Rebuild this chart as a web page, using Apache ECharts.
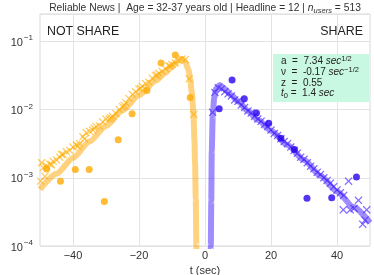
<!DOCTYPE html>
<html><head><meta charset="utf-8">
<script src="https://cdn.jsdelivr.net/npm/echarts@6/dist/echarts.min.js"></script>
<style>html,body{margin:0;padding:0;background:#fff}#c{width:374px;height:275px}</style>
</head><body><div id="c"></div>
<script>
// ---------- data ----------
const xTickLabels = [-40, -20, 0, 20, 40];
const yTickExponents = [-4, -3, -2, -1];

// fitted curve, NOT SHARE (t, pdf)
const notShareFitT   = [-50, -45, -40, -35, -30, -25, -20, -15, -12, -10, -8, -7, -6, -5, -4.5, -4, -3.5, -3.2, -3.0, -2.8, -2.6, -2.45];
const notShareFitPdf = [6.76e-4, 1.148e-3, 1.95e-3, 3.39e-3, 5.75e-3, 9.77e-3, 1.62e-2, 2.63e-2, 3.47e-2, 4.27e-2, 5.25e-2, 5.50e-2, 5.01e-2, 3.80e-2, 2.82e-2, 1.78e-2, 8.91e-3, 3.55e-3, 1.58e-3, 5.01e-4, 1.0e-4, 2.5e-5];

// fitted curve, SHARE
const shareFitT   = [1.7, 1.76, 1.9, 2.05, 2.35, 2.8, 3.4, 4.5, 6, 8, 10, 13, 16, 20, 25, 30, 35, 40, 45, 50];
const shareFitPdf = [2.5e-5, 1.0e-4, 4.57e-4, 2.51e-3, 8.13e-3, 1.51e-2, 2.04e-2, 2.29e-2, 2.00e-2, 1.62e-2, 1.32e-2, 9.55e-3, 7.08e-3, 4.90e-3, 3.02e-3, 1.82e-3, 1.07e-3, 6.31e-4, 3.72e-4, 2.19e-4];

// crosses, NOT SHARE
const notShareCrossT   = [-49.8, -49.5, -49, -48.5, -48, -47, -46.5, -46, -45, -44, -43.5, -43, -42, -41, -40, -39, -38.5, -38, -37, -36.5, -36, -35, -34, -33.5, -33, -32, -31, -30, -29, -28.5, -28, -27, -26, -25, -24.5, -24, -23, -22, -21, -20, -19.5, -19, -18, -17, -16, -15, -14.5, -14, -13, -12, -11, -10.5, -10, -9, -8, -7, -6, -4.8, -3.4];
const notShareCrossPdf = [8.91e-4, 1.66e-3, 1.41e-3, 1.05e-3, 1.48e-3, 1.58e-3, 1.55e-3, 1.74e-3, 1.82e-3, 2.00e-3, 2.2e-3, 2.19e-3, 2.40e-3, 2.51e-3, 2.82e-3, 3.02e-3, 2.9e-3, 3.16e-3, 3.98e-3, 3.7e-3, 4.57e-3, 4.79e-3, 5.01e-3, 5.3e-3, 5.62e-3, 5.75e-3, 6.61e-3, 7.24e-3, 7.24e-3, 7.6e-3, 7.94e-3, 8.71e-3, 1.0e-2, 1.10e-2, 1.15e-2, 1.26e-2, 1.45e-2, 1.66e-2, 1.82e-2, 2.00e-2, 2.05e-2, 2.19e-2, 2.40e-2, 2.51e-2, 2.88e-2, 3.16e-2, 3.2e-2, 3.39e-2, 3.63e-2, 3.98e-2, 4.37e-2, 4.3e-2, 4.57e-2, 4.79e-2, 5.25e-2, 5.50e-2, 5.37e-2, 2.82e-2, 8.51e-3];

// crosses, SHARE
const shareCrossT   = [2.3, 3.0, 4, 5, 6, 7, 8, 9, 10, 11, 12, 13, 14, 15, 16, 17, 18, 19, 20, 21, 22, 23, 24, 25, 26, 27, 28, 29, 30, 31, 32, 33, 34, 35, 36, 37, 38, 39, 40, 41, 42, 43.5, 41.9, 44, 45.2, 46.5, 47.8, 48.5, 49];
const shareCrossPdf = [9.12e-3, 1.78e-2, 2.09e-2, 2.00e-2, 1.82e-2, 1.70e-2, 1.58e-2, 1.38e-2, 1.32e-2, 1.17e-2, 1.07e-2, 9.55e-3, 8.91e-3, 7.94e-3, 7.24e-3, 6.76e-3, 6.03e-3, 5.62e-3, 5.01e-3, 4.47e-3, 4.17e-3, 3.72e-3, 3.39e-3, 3.16e-3, 2.82e-3, 2.51e-3, 2.29e-3, 2.00e-3, 1.86e-3, 1.66e-3, 1.48e-3, 1.35e-3, 1.20e-3, 1.12e-3, 1.0e-3, 9.12e-4, 8.32e-4, 7.41e-4, 6.61e-4, 6.03e-4, 5.50e-4, 8.91e-4, 3.39e-4, 3.39e-4, 3.55e-4, 4.68e-4, 2.09e-4, 2.40e-4, 3.39e-4];

// dots, NOT SHARE
const notShareDotT   = [-13.3, -9.0, -17.6, -4.5, -22.1, -26.3, -48, -39.3, -35.1, -43.8, -30.5];
const notShareDotPdf = [0.048, 0.063, 0.019, 0.015, 0.0087, 0.0036, 0.00134, 0.00132, 0.00132, 0.00089, 0.00045];

// dots, SHARE
const shareDotT   = [4.3, 8.2, 11.9, 15.6, 19.3, 23.0, 27.1, 30.9, 38.4, 45.9];
const shareDotPdf = [0.0103, 0.027, 0.0144, 0.0089, 0.0063, 0.0038, 0.0026, 0.0005, 0.00051, 0.00103];

// ---------- chart ----------
const zip = (a, b) => a.map((v, i) => [v, b[i]]);
const FONT = "'Liberation Sans', Arial, sans-serif";
const CROSS = 'path://M0,1.1L1.1,0L5,3.9L8.9,0L10,1.1L6.1,5L10,8.9L8.9,10L5,6.1L1.1,10L0,8.9L3.9,5Z';
const MINUS = '\u2212';

const chart = echarts.init(document.getElementById('c'), null, {renderer: 'canvas'});
chart.setOption({
  animation: false,
  backgroundColor: '#ffffff',
  textStyle: {fontFamily: FONT},
  grid: {left: 40, right: 4, top: 14, bottom: 29, show: true, borderColor: '#d9d9d9', borderWidth: 1,
         containLabel: false, outerBoundsMode: 'none'},
  xAxis: {
    type: 'value', min: -50, max: 50, interval: 10,
    name: 't (sec)', nameLocation: 'middle', nameGap: 15,
    nameTextStyle: {fontSize: 11, color: '#333', fontFamily: FONT},
    axisLine: {show: false}, axisTick: {show: false},
    axisLabel: {
      fontSize: 11, color: '#333', margin: 4, fontFamily: FONT,
      formatter: v => xTickLabels.includes(v) ? (v < 0 ? MINUS + Math.abs(v) : String(v)) : ''
    },
    splitLine: {show: true, lineStyle: {color: ['rgba(0,0,0,0)', '#e3e3e3'], width: 1}}
  },
  yAxis: {
    type: 'log', logBase: 10, min: 1e-4, max: 0.2512, interval: 1,
    name: 'PDF', nameLocation: 'middle', nameGap: 31,
    nameTextStyle: {fontSize: 11, color: '#333', fontFamily: FONT},
    axisLine: {show: false}, axisTick: {show: false},
    axisLabel: {
      margin: 7, color: '#333', fontFamily: FONT,
      formatter: v => {
        const e = Math.log10(v);
        const r = Math.round(e);
        if (Math.abs(e - r) > 1e-6 || !yTickExponents.includes(r)) return '';
        return '{b|10}{s|' + (r < 0 ? MINUS : '') + Math.abs(r) + '}';
      },
      rich: {
        b: {fontSize: 11, color: '#333', fontFamily: FONT, verticalAlign: 'bottom', lineHeight: 14},
        s: {fontSize: 8, color: '#333', fontFamily: FONT, verticalAlign: 'top', lineHeight: 14, padding: [0, 0, 6, 1]}
      }
    },
    splitLine: {show: true, lineStyle: {color: '#e3e3e3', width: 1}}
  },
  series: [
    {type: 'line', data: zip(notShareFitT, notShareFitPdf), showSymbol: false, smooth: 0.25, smoothMonotone: 'x', clip: true, z: 1,
     lineStyle: {color: 'rgba(255,165,0,0.5)', width: 6}},
    {type: 'line', data: zip(shareFitT, shareFitPdf), showSymbol: false, smooth: 0.25, smoothMonotone: 'x', clip: true, z: 1,
     lineStyle: {color: 'rgba(80,45,255,0.55)', width: 6}},
    {type: 'scatter', data: zip(notShareCrossT, notShareCrossPdf), symbol: CROSS, symbolSize: 8, z: 2,
     itemStyle: {color: 'rgba(255,172,0,0.8)'}},
    {type: 'scatter', data: zip(shareCrossT, shareCrossPdf), symbol: CROSS, symbolSize: 8, z: 2,
     itemStyle: {color: 'rgba(70,40,255,0.85)'}},
    {type: 'scatter', data: zip(notShareDotT, notShareDotPdf), symbol: 'circle', symbolSize: 7, z: 3,
     itemStyle: {color: '#ffaa00'}},
    {type: 'scatter', data: zip(shareDotT, shareDotPdf), symbol: 'circle', symbolSize: 7, z: 3,
     itemStyle: {color: '#2a00f0'}}
  ],
  graphic: [
    {type: 'text', x: 205, y: 2, z: 10,
     style: {
       text: 'Reliable News |  Age = 32-37 years old | Headline = 12 | {i|n}{sub|users} = 513',
       font: '10.3px ' + FONT, fill: '#333', align: 'center',
       rich: {
         i: {fontStyle: 'italic', fontSize: 10.3, fill: '#333', fontFamily: FONT},
         sub: {fontStyle: 'italic', fontSize: 7.5, fill: '#333', fontFamily: FONT, padding: [5, 0, 0, 0]}
       }
     }},
    {type: 'text', x: 47, y: 26, z: 10, style: {text: 'NOT SHARE', font: '12.4px ' + FONT, fill: '#222'}},
    {type: 'text', x: 363, y: 26, z: 10, style: {text: 'SHARE', font: '12.4px ' + FONT, fill: '#222', align: 'right'}},
    {type: 'rect', x: 273, y: 54, z: 10, shape: {width: 96, height: 48}, style: {fill: '#c8f7e2'}},
    {type: 'text', x: 281, y: 56, z: 11,
     style: {
       text: 'a  =  7.34 {i|sec}{sup|1/2}\n\u03bd  =  -0.17 {i|sec}{sup|\u22121/2}\nz  =  0.55\n{i|t}{sub|0} =  1.4 {i|sec}',
       font: '10px ' + FONT, fill: '#222', lineHeight: 10.7,
       rich: {
         i: {fontStyle: 'italic', fontSize: 10, fontFamily: FONT, fill: '#222'},
         sup: {fontSize: 7.5, fontFamily: FONT, fill: '#222', padding: [0, 0, 5, 0]},
         sub: {fontSize: 7.5, fontFamily: FONT, fill: '#222', padding: [4, 0, 0, 0]}
       }
     }}
  ]
});
</script></body></html>
